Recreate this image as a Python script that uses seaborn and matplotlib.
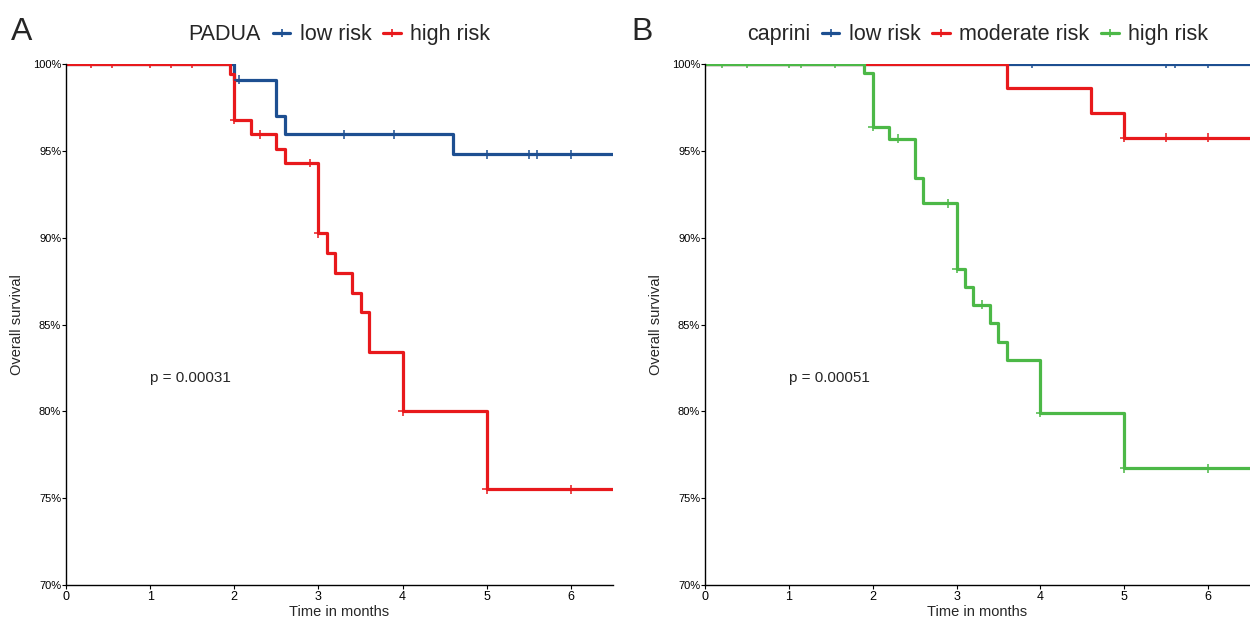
"""Kaplan-Meier curves: PADUA vs Caprini risk groups."""

import matplotlib.pyplot as plt
import numpy as np
import pandas as pd
import seaborn as sns
from matplotlib.lines import Line2D
from matplotlib.ticker import FuncFormatter

# ---- data (time in months, survival in %) ----
follow_up_end = 6.5

padua_groups = ["low risk", "high risk"]
padua_low_time = [0, 2.0, 2.5, 2.6, 4.6]
padua_low_surv = [100, 99.1, 97.0, 95.95, 94.8]
padua_low_cens = [2.05, 3.3, 3.9, 5.0, 5.5, 5.6, 6.0]
padua_high_time = [0, 1.95, 2.0, 2.2, 2.5, 2.6, 3.0, 3.1, 3.2, 3.4, 3.5, 3.6, 4.0, 5.0]
padua_high_surv = [100, 99.4, 96.8, 95.95, 95.1, 94.3, 90.25, 89.1, 87.95, 86.8, 85.7, 83.4, 80.0, 75.5]
padua_high_cens = [0.3, 0.55, 1.0, 1.25, 1.5, 2.0, 2.3, 2.9, 3.0, 4.0, 5.0, 6.0]
padua_p = "p = 0.00031"

caprini_groups = ["low risk", "moderate risk", "high risk"]
caprini_low_time = [0]
caprini_low_surv = [100]
caprini_low_cens = [3.9, 5.5, 5.6, 6.0]
caprini_mod_time = [0, 3.6, 4.6, 5.0]
caprini_mod_surv = [100, 98.6, 97.16, 95.76]
caprini_mod_cens = [5.0, 5.5, 6.0]
caprini_high_time = [0, 1.9, 2.0, 2.2, 2.5, 2.6, 3.0, 3.1, 3.2, 3.4, 3.5, 3.6, 4.0, 5.0]
caprini_high_surv = [100, 99.46, 96.4, 95.7, 93.46, 91.98, 88.2, 87.14, 86.13, 85.07, 84.0, 82.96, 79.9, 76.72]
caprini_high_cens = [0.2, 0.5, 1.0, 1.15, 1.55, 2.0, 2.3, 2.9, 3.0, 3.3, 4.0, 5.0, 6.0]
caprini_p = "p = 0.00051"

BLUE, RED, GREEN = "#1d4f91", "#e8191c", "#4cb847"


def build_frames(groups, times, survs, cens):
    curves, marks = [], []
    for g, t, s, c in zip(groups, times, survs, cens):
        t_full = list(t) + [follow_up_end]
        s_full = list(s) + [s[-1]]
        curves.append(pd.DataFrame({"time": t_full, "surv": s_full, "group": g}))
        idx = np.searchsorted(t, c, side="right") - 1
        marks.append(pd.DataFrame({"time": c, "surv": np.asarray(s)[idx], "group": g}))
    return pd.concat(curves), pd.concat(marks)


def km_panel(ax, title, groups, colors, times, survs, cens, ptext):
    curves, marks = build_frames(groups, times, survs, cens)
    pal = dict(zip(groups, colors))
    sns.lineplot(data=curves, x="time", y="surv", hue="group", hue_order=groups,
                 palette=pal, estimator=None, drawstyle="steps-post",
                 linewidth=2.3, legend=False, ax=ax)
    sns.scatterplot(data=marks, x="time", y="surv", hue="group", hue_order=groups,
                    palette=pal, marker="+", s=40, linewidth=1.1, legend=False,
                    ax=ax, zorder=3)

    ax.set_xlim(0, follow_up_end)
    ax.set_ylim(70, 100)
    ax.set_xticks(range(0, 7))
    ax.set_yticks(range(70, 101, 5))
    ax.yaxis.set_major_formatter(FuncFormatter(lambda v, _: f"{v:.0f}%"))
    ax.margins(0)
    ax.set_xlabel("Time in months", fontsize=10.5, labelpad=2)
    ax.set_ylabel("Overall survival", fontsize=10.5, labelpad=6)
    ax.tick_params(length=3, width=0.8, pad=1, colors="black")
    ax.tick_params(axis="x", labelsize=9)
    ax.tick_params(axis="y", labelsize=8, pad=0.5)
    for sp in ("left", "bottom"):
        ax.spines[sp].set_linewidth(1.0)
        ax.spines[sp].set_color("black")
    sns.despine(ax=ax)

    ax.text(1.0, 81.9, ptext, fontsize=11, va="center", ha="left")

    handles = [Line2D([0], [0], color=c, lw=2.3, marker="+", markersize=6, mew=1.2)
               for c in colors]
    leg = ax.legend(handles, groups, title=title, ncol=len(groups), loc="center",
                    bbox_to_anchor=(0.5, 1.056), frameon=False, fontsize=15.5,
                    title_fontsize=15.5, handlelength=0.8, handletextpad=0.45,
                    columnspacing=0.55, borderaxespad=0, borderpad=0)
    # put the legend title on the same line as the keys
    box = leg._legend_box
    title_box, handle_box = box.get_children()
    box._children = [handle_box]
    handle_box._children.insert(0, title_box)


sns.set_theme(style="ticks")
plt.rcParams["font.family"] = ["Liberation Sans", "DejaVu Sans"]

fig = plt.figure(figsize=(12.5, 6.19), dpi=100)
ax_a = fig.add_axes([0.0528, 0.0549, 0.4376, 0.8417])
ax_b = fig.add_axes([0.564, 0.0549, 0.436, 0.8417])

km_panel(ax_a, "PADUA", padua_groups, [BLUE, RED],
         [padua_low_time, padua_high_time], [padua_low_surv, padua_high_surv],
         [padua_low_cens, padua_high_cens], padua_p)
km_panel(ax_b, "caprini", caprini_groups, [BLUE, RED, GREEN],
         [caprini_low_time, caprini_mod_time, caprini_high_time],
         [caprini_low_surv, caprini_mod_surv, caprini_high_surv],
         [caprini_low_cens, caprini_mod_cens, caprini_high_cens], caprini_p)

fig.text(11 / 1250, 1 - 40 / 619, "A", fontsize=23, ha="left", va="baseline")
fig.text(631 / 1250, 1 - 40 / 619, "B", fontsize=23, ha="left", va="baseline")

fig.savefig("out.png", dpi=100)
